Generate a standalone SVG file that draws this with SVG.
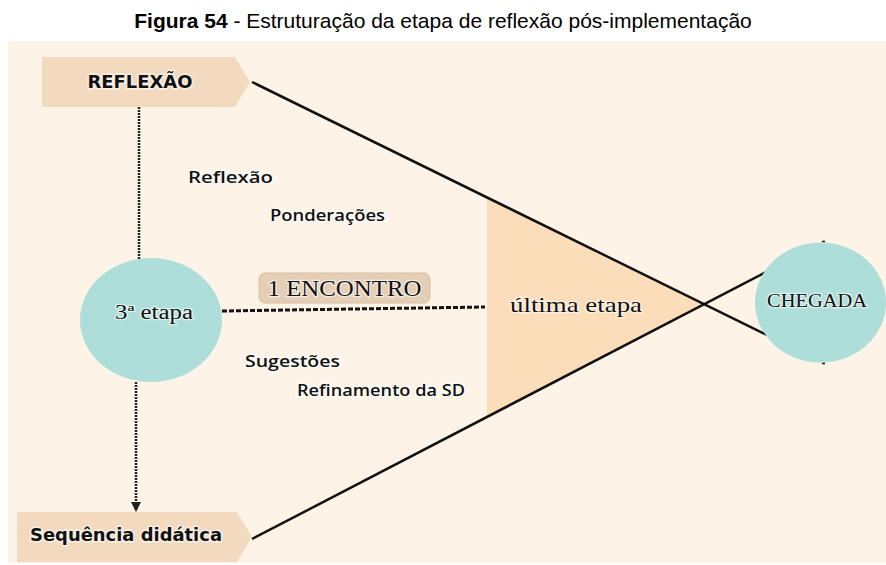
<svg xmlns="http://www.w3.org/2000/svg" width="886" height="565" viewBox="0 0 886 565">
  <style>
    .title { font-family: "Liberation Sans", Arial, sans-serif; font-size: 21px; fill: #000; }
    .sans { font-family: "Open Sans", "DejaVu Sans", sans-serif; font-weight: 600; font-size: 16px; fill: #111; stroke: #fff; stroke-width: 3; stroke-opacity: 0.7; paint-order: stroke; stroke-linejoin: round; }
    .sansb { font-family: "DejaVu Sans", "Open Sans", sans-serif; font-weight: bold; font-size: 17px; fill: #111; stroke: #fff; stroke-width: 3; stroke-opacity: 0.6; paint-order: stroke; stroke-linejoin: round; }
    .serif { font-family: "Liberation Serif", "Times New Roman", serif; fill: #111; stroke: #fff; stroke-width: 2.5; stroke-opacity: 0.6; paint-order: stroke; stroke-linejoin: round; }
    .box { fill: #F3DABF; }
    .circle { fill: #ADDEDA; }
    .solid { stroke: #111; stroke-width: 2.5; fill: none; }
    .dotted { stroke: #222; stroke-width: 2.5; stroke-dasharray: 2 1; fill: none; }
    .dashed { stroke: #111; stroke-width: 3; stroke-dasharray: 5 2; fill: none; }
  </style>
  <defs>
    <marker id="arrow" viewBox="0 0 10 10" refX="9" refY="5" markerWidth="4" markerHeight="4" orient="auto" markerUnits="strokeWidth">
      <path d="M0,0 L10,5 L0,10 z" fill="#222"/>
    </marker>
  </defs>

  <text class="title" x="443" y="28" text-anchor="middle"><tspan font-weight="bold">Figura 54</tspan> - Estruturação da etapa de reflexão pós-implementação</text>

  <rect x="8" y="41" width="878" height="522" fill="#FDF3E6"/>

  <g id="ultima-etapa">
    <polygon points="487,197 703,304 487,416" fill="#FCDDB9"/>
    <text class="serif" x="510" y="312" font-size="21" textLength="132" lengthAdjust="spacingAndGlyphs">última etapa</text>
  </g>

  <g id="connectors">
    <line class="dotted" x1="139" y1="107" x2="139" y2="259"/>
    <line class="dotted" x1="136" y1="382" x2="136" y2="511" marker-end="url(#arrow)"/>
    <line class="dashed" x1="222" y1="311" x2="485" y2="307"/>
    <line class="solid" x1="252" y1="82" x2="767" y2="335"/>
    <line class="solid" x1="252" y1="539" x2="766" y2="272"/>
  </g>

  <g id="reflexao">
    <polygon class="box" points="42,57 235,57 250,82 235,107 42,107"/>
    <text class="sansb" x="140" y="88" text-anchor="middle" font-size="18" textLength="105" lengthAdjust="spacingAndGlyphs">REFLEXÃO</text>
  </g>

  <g id="sequencia-didatica">
    <polygon class="box" points="17,512 237,512 252,537 237,562 17,562"/>
    <text class="sansb" x="30" y="541" textLength="192" lengthAdjust="spacingAndGlyphs">Sequência didática</text>
  </g>

  <g id="terceira-etapa">
    <ellipse class="circle" cx="151" cy="320" rx="71" ry="62"/>
    <text class="serif" x="115" y="319" font-size="20" textLength="78" lengthAdjust="spacingAndGlyphs">3ª etapa</text>
  </g>

  <g id="chegada">
    <ellipse class="circle" cx="820.5" cy="302.5" rx="65.5" ry="60"/>
    <line x1="822" y1="241.5" x2="825" y2="241.5" stroke="#111" stroke-width="1.5"/>
    <line x1="822" y1="363.5" x2="825" y2="363.5" stroke="#111" stroke-width="1.5"/>
    <text class="serif" x="767" y="307" font-size="19" textLength="100" lengthAdjust="spacingAndGlyphs">CHEGADA</text>
  </g>

  <g id="encontro">
    <rect x="259" y="273" width="171" height="30" rx="6" fill="#E4CFB6" stroke="#D6BEA2" stroke-width="1"/>
    <text class="serif" x="344.5" y="296" font-size="24" text-anchor="middle" textLength="154" lengthAdjust="spacingAndGlyphs">1 ENCONTRO</text>
  </g>

  <g id="labels">
    <text class="sans" x="188" y="183" textLength="85" lengthAdjust="spacingAndGlyphs">Reflexão</text>
    <text class="sans" x="270" y="221" textLength="115" lengthAdjust="spacingAndGlyphs">Ponderações</text>
    <text class="sans" x="245" y="367" textLength="95" lengthAdjust="spacingAndGlyphs">Sugestões</text>
    <text class="sans" x="297" y="396" textLength="168" lengthAdjust="spacingAndGlyphs">Refinamento da SD</text>
  </g>
</svg>
